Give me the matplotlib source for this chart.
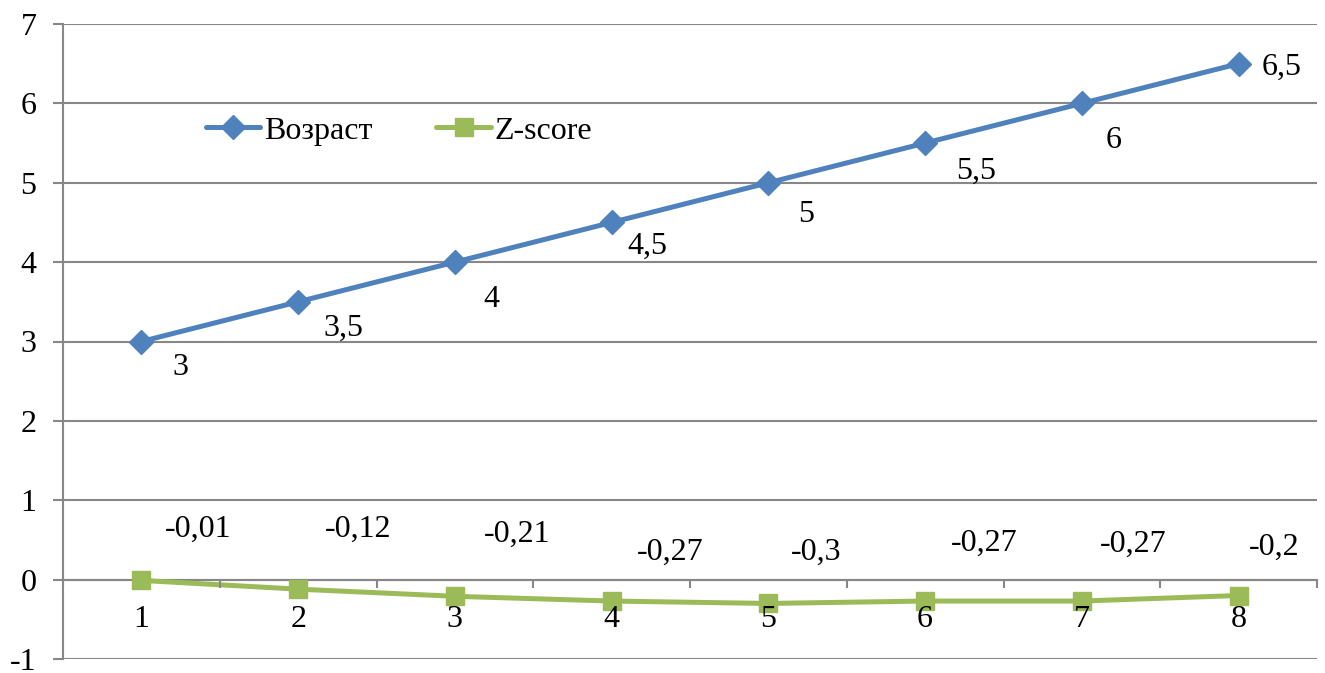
import matplotlib
matplotlib.use("Agg")
import matplotlib.pyplot as plt
from matplotlib.ticker import FixedLocator

plt.rcParams['font.family'] = ['Liberation Serif', 'DejaVu Serif']

# Data
categories = [1, 2, 3, 4, 5, 6, 7, 8]
age = [3, 3.5, 4, 4.5, 5, 5.5, 6, 6.5]
zscore = [-0.01, -0.12, -0.21, -0.27, -0.3, -0.27, -0.27, -0.2]
age_labels = ["3", "3,5", "4", "4,5", "5", "5,5", "6", "6,5"]
z_labels = ["-0,01", "-0,12", "-0,21", "-0,27", "-0,3", "-0,27", "-0,27", "-0,2"]
y_ticks = [-1, 0, 1, 2, 3, 4, 5, 6, 7]

# Label placement offsets (pixels) relative to each point
age_offsets = [(39, -26), (45, -27), (36, -37), (36, -24), (38, -32), (51, -28), (32, -37), (43, -4)]
z_offsets = [(57, 51), (60, 60), (62, 62), (59, 49), (48, 51), (59, 58), (51, 57), (36, 48)]

W, H = 1325, 673
fig = plt.figure(figsize=(W / 100, H / 100), dpi=100)
ax = fig.add_axes([63 / W, (H - 659) / H, (1317 - 63) / W, (659 - 24) / H])

blue = '#4F81BD'
green = '#9BBB59'
grid_c = '#878787'
fs = 23

ax.plot(categories, age, color=blue, lw=3.6, marker='D', ms=12, label='Возраст',
        solid_capstyle='round', zorder=4)
ax.plot(categories, zscore, color=green, lw=3.6, marker='s', ms=13, label='Z-score',
        solid_capstyle='round', zorder=4)

for x, v, t, (dx, dy) in zip(categories, age, age_labels, age_offsets):
    ax.annotate(t, (x, v), xytext=(dx, dy), textcoords='offset pixels',
                ha='center', va='center', fontsize=fs, zorder=6)
for x, v, t, (dx, dy) in zip(categories, zscore, z_labels, z_offsets):
    ax.annotate(t, (x, v), xytext=(dx, dy), textcoords='offset pixels',
                ha='center', va='center', fontsize=fs, zorder=6)

ax.set_xlim(0.5, 8.5)
ax.set_ylim(-1, 7)
ax.set_yticks(y_ticks)
ax.set_yticklabels([str(t) for t in y_ticks], fontsize=fs)
ax.yaxis.grid(True, color=grid_c, lw=1.5)
ax.set_axisbelow(True)

# category axis crossing at zero
ax.spines['bottom'].set_position(('data', 0))
ax.spines['bottom'].set_color(grid_c)
ax.spines['bottom'].set_linewidth(1.5)
ax.spines['left'].set_color(grid_c)
ax.spines['left'].set_linewidth(1.5)
ax.spines['top'].set_visible(False)
ax.spines['right'].set_visible(False)

ax.xaxis.set_major_locator(FixedLocator([c + 0.5 for c in [0] + categories]))
ax.xaxis.set_minor_locator(FixedLocator(categories))
ax.set_xticklabels([], minor=False)
ax.set_xticklabels([str(c) for c in categories], minor=True, fontsize=fs)
ax.tick_params(axis='x', which='major', direction='out', length=6, width=1.5, color=grid_c)
ax.tick_params(axis='x', which='minor', length=0, pad=18)
ax.tick_params(axis='y', direction='out', length=7, width=1.5, color=grid_c, pad=12)
# category labels sit in front of the series lines
ax.xaxis.set_zorder(5)

leg = ax.legend(loc='center left', bbox_to_anchor=(206 / W, (H - 131) / H),
                bbox_transform=fig.transFigure, ncol=2, frameon=False,
                fontsize=fs, handlelength=1.7, handletextpad=0.12,
                columnspacing=2.0, borderaxespad=0, borderpad=0)

fig.savefig('out.png', dpi=100)
